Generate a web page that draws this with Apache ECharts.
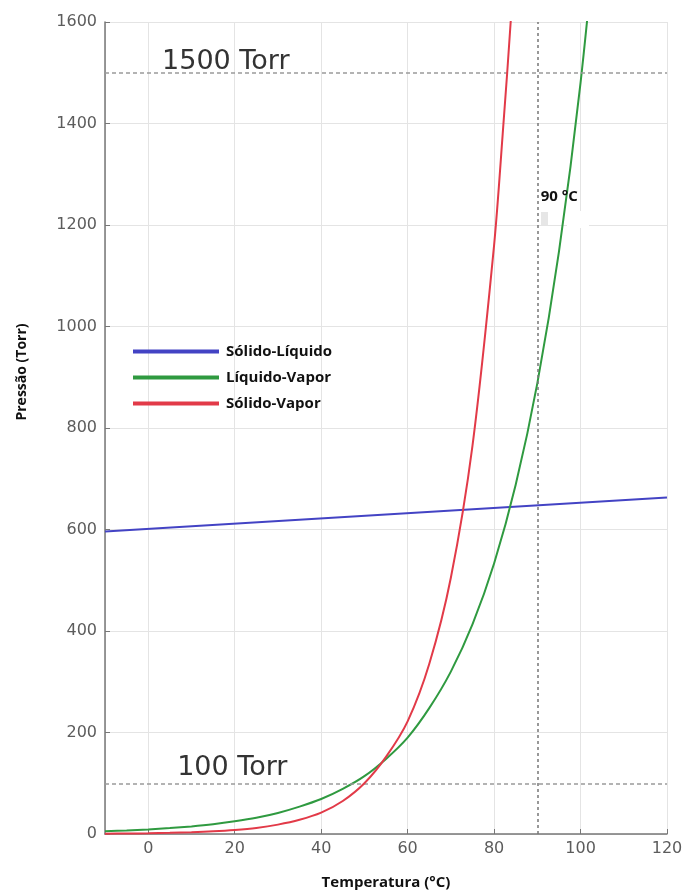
<!DOCTYPE html>
<html>
<head>
<meta charset="utf-8">
<script src="https://cdn.jsdelivr.net/npm/echarts@6/dist/echarts.min.js"></script>
<style>
  html, body { margin: 0; padding: 0; background: #fff; }
  #chart { width: 686px; height: 895px; }
</style>
</head>
<body>
<div id="chart"></div>
<script>
// Sólido-Líquido: straight line
var solidLiquidTemps = [-10, 120];
var solidLiquidVals = [596, 663];

// Líquido-Vapor
var liquidVaporTemps = [-10, -5, 0, 5, 10, 15, 20, 25, 30, 35, 40, 45, 50, 55, 60, 65, 70, 75, 80, 85, 90, 95, 100, 105];
var liquidVaporVals = [5.4, 7, 9, 11.6, 15, 19.3, 25, 32, 41.5, 54, 69, 89, 114, 148, 190, 248, 320, 413, 533, 688, 888, 1147, 1480, 1910];

// Sólido-Vapor
var solidVaporTemps = [-10, -5, 0, 5, 10, 15, 20, 25, 30, 35, 40, 45, 50, 55, 60, 65, 70, 75, 80, 82, 84, 86];
var solidVaporVals = [0.7, 1, 1.5, 2.3, 3.5, 5.3, 8, 12, 18.5, 28, 42, 65, 100, 152, 222, 335, 505, 765, 1160, 1380, 1620, 1920];

var seriesNames = ['Sólido-Líquido', 'Líquido-Vapor', 'Sólido-Vapor'];
var seriesColors = ['#4343c4', '#2f9a40', '#e23a48'];

var refPressures = [1500, 100];
var refTemp = 90;
var xTitle = 'Temperatura (°C)';
var yTitle = 'Pressão (Torr)';

function pairs(xs, ys) {
  var out = [];
  for (var i = 0; i < xs.length; i++) {
    out.push([xs[i], ys[i]]);
  }
  return out;
}

var chart = echarts.init(document.getElementById('chart'));

var tickFont = { fontFamily: 'DejaVu Sans', fontSize: 16, color: '#5c5c5c' };
var dashGray = { color: '#9a9a9a', type: [4, 3], width: 1.5 };

var option = {
  animation: false,
  backgroundColor: '#fff',
  grid: { left: 105, right: 19, top: 22, bottom: 60, containLabel: false },
  legend: {
    orient: 'vertical',
    left: 128,
    top: 339,
    icon: 'rect',
    itemWidth: 86,
    itemHeight: 4,
    itemGap: 11,
    data: seriesNames,
    textStyle: { fontFamily: 'Open Sans', fontWeight: 'bold', fontSize: 15, color: '#111', padding: [0, 0, 0, 2] }
  },
  xAxis: {
    type: 'value',
    min: -10,
    max: 120,
    splitNumber: 6,
    name: xTitle,
    nameLocation: 'middle',
    nameGap: 41,
    nameTextStyle: { fontFamily: 'Open Sans', fontWeight: 'bold', fontSize: 15, color: '#111' },
    axisLine: { onZero: false, lineStyle: { color: '#777', width: 1.5 } },
    axisTick: { inside: true, length: 5, lineStyle: { color: '#777' } },
    axisLabel: Object.assign({
      margin: 7,
      showMinLabel: false,
      formatter: function(v) { return v % 20 === 0 ? String(v) : ''; }
    }, tickFont),
    splitLine: { show: true, lineStyle: { color: '#e4e4e4', width: 1 } }
  },
  yAxis: {
    type: 'value',
    min: 0,
    max: 1600,
    interval: 200,
    axisLine: { show: true, onZero: false, lineStyle: { color: '#777', width: 1.5 } },
    axisTick: { show: true, inside: true, length: 5, lineStyle: { color: '#777' } },
    axisLabel: Object.assign({
      margin: 8,
      formatter: function(v) { return String(v); }
    }, tickFont),
    splitLine: { show: true, lineStyle: { color: '#e4e4e4', width: 1 } }
  },
  graphic: [
    {
      type: 'text',
      x: 22,
      y: 372,
      rotation: Math.PI / 2,
      style: {
        text: yTitle,
        fontFamily: 'Open Sans',
        fontWeight: 'bold',
        fontSize: 14,
        fill: '#111',
        textAlign: 'center',
        textVerticalAlign: 'middle'
      }
    },
    { type: 'rect', x: 567, y: 211, z: 100, shape: { width: 22, height: 17 }, style: { fill: '#fff' } },
    { type: 'rect', x: 541, y: 212, z: 100, shape: { width: 7, height: 13 }, style: { fill: '#e6e6e6' } }
  ],
  series: [
    {
      name: seriesNames[0],
      type: 'line',
      symbol: 'none',
      color: seriesColors[0],
      lineStyle: { width: 2 },
      data: pairs(solidLiquidTemps, solidLiquidVals),
      z: 3,
      markLine: {
        silent: true,
        symbol: 'none',
        label: { show: false },
        data: [
          { yAxis: refPressures[0], lineStyle: dashGray },
          { yAxis: refPressures[1], lineStyle: dashGray },
          { xAxis: refTemp, lineStyle: { color: '#777', type: [3, 3], width: 1.5 } }
        ]
      },
      markPoint: {
        silent: true,
        symbolSize: 0,
        data: [
          { coord: [3.2, 1522], label: { show: true, position: 'right', distance: 0, formatter: refPressures[0] + ' Torr', fontFamily: 'DejaVu Sans', fontSize: 27, color: '#333' } },
          { coord: [6.7, 130], label: { show: true, position: 'right', distance: 0, formatter: refPressures[1] + ' Torr', fontFamily: 'DejaVu Sans', fontSize: 27, color: '#333' } },
          { coord: [90.8, 1256], label: { show: true, position: 'right', distance: 0, formatter: refTemp + ' °C', fontFamily: 'Open Sans', fontWeight: 'bold', fontSize: 15, color: '#111' } }
        ]
      }
    },
    {
      name: seriesNames[1],
      type: 'line',
      symbol: 'none',
      smooth: 0.3,
      color: seriesColors[1],
      lineStyle: { width: 2 },
      data: pairs(liquidVaporTemps, liquidVaporVals),
      z: 4
    },
    {
      name: seriesNames[2],
      type: 'line',
      symbol: 'none',
      smooth: 0.3,
      color: seriesColors[2],
      lineStyle: { width: 2 },
      data: pairs(solidVaporTemps, solidVaporVals),
      z: 5
    }
  ]
};

chart.setOption(option);
</script>
</body>
</html>
